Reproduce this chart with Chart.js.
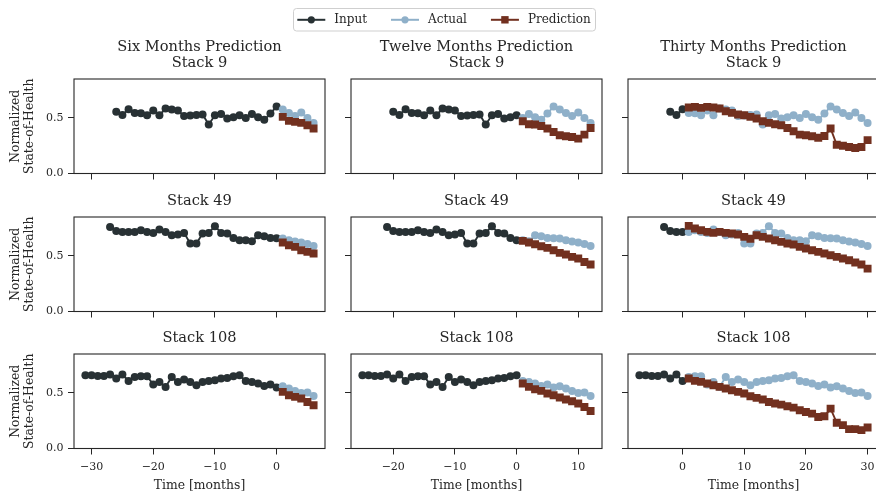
<!DOCTYPE html>
<html>
<head>
<meta charset="utf-8">
<script src="https://cdn.jsdelivr.net/npm/chart.js@4"></script>
<style>
  html, body { margin: 0; padding: 0; background: #fff; }
  body { position: relative; width: 876px; height: 493px; overflow: hidden; }
  canvas { position: absolute; }
</style>
</head>
<body>
<script>
// ---- Data -------------------------------------------------------------
const horizons = [6, 12, 30];
const horizonTitles = ['Six Months Prediction', 'Twelve Months Prediction', 'Thirty Months Prediction'];
const stackNames = ['Stack 9', 'Stack 49', 'Stack 108'];
const seriesNames = ['Input', 'Actual', 'Prediction'];

// Measured normalized state-of-health, one value per month (oldest first)
const stack9Soh = [0.555, 0.527, 0.578, 0.544, 0.543, 0.524, 0.567, 0.524, 0.584, 0.575, 0.567,
  0.518, 0.522, 0.527, 0.530, 0.441, 0.524, 0.536, 0.494, 0.506, 0.524, 0.500, 0.535, 0.505,
  0.483, 0.539, 0.603, 0.575, 0.544, 0.517, 0.548, 0.500, 0.455];
const stack49Soh = [0.761, 0.725, 0.716, 0.716, 0.716, 0.731, 0.716, 0.707, 0.737, 0.716, 0.686,
  0.692, 0.707, 0.611, 0.611, 0.701, 0.707, 0.767, 0.707, 0.701, 0.662, 0.641, 0.641, 0.632,
  0.686, 0.677, 0.660, 0.658, 0.656, 0.640, 0.630, 0.621, 0.607, 0.590];
const stack108Soh = [0.659, 0.659, 0.653, 0.653, 0.665, 0.629, 0.665, 0.608, 0.644, 0.650, 0.650,
  0.575, 0.599, 0.554, 0.644, 0.599, 0.620, 0.599, 0.569, 0.599, 0.608, 0.614, 0.629, 0.635,
  0.650, 0.659, 0.608, 0.599, 0.584, 0.563, 0.575, 0.548, 0.560, 0.539, 0.518, 0.500, 0.503, 0.473];

// Model forecasts for months 1..horizon
const pred9Six = [0.509, 0.473, 0.464, 0.455, 0.434, 0.404];
const pred9Twelve = [0.470, 0.443, 0.440, 0.428, 0.404, 0.374, 0.344, 0.335, 0.329, 0.314, 0.350, 0.410];
const pred9Thirty = [0.593, 0.599, 0.590, 0.599, 0.593, 0.584, 0.560, 0.545, 0.530, 0.524, 0.509, 0.494,
  0.470, 0.455, 0.443, 0.434, 0.410, 0.380, 0.350, 0.344, 0.335, 0.322, 0.338, 0.405, 0.258, 0.250,
  0.238, 0.230, 0.238, 0.300];
const pred49Six = [0.620, 0.596, 0.581, 0.551, 0.536, 0.521];
const pred49Twelve = [0.635, 0.620, 0.605, 0.587, 0.572, 0.551, 0.527, 0.512, 0.491, 0.476, 0.446, 0.422];
const pred49Thirty = [0.770, 0.746, 0.731, 0.716, 0.707, 0.716, 0.707, 0.701, 0.692, 0.671, 0.655, 0.686,
  0.671, 0.656, 0.641, 0.626, 0.611, 0.602, 0.581, 0.566, 0.551, 0.536, 0.521, 0.506, 0.491, 0.476,
  0.461, 0.440, 0.422, 0.386];
const pred108Six = [0.509, 0.479, 0.464, 0.449, 0.419, 0.389];
const pred108Twelve = [0.584, 0.554, 0.533, 0.518, 0.494, 0.479, 0.458, 0.440, 0.425, 0.404, 0.374, 0.338];
const pred108Thirty = [0.629, 0.608, 0.599, 0.584, 0.569, 0.554, 0.539, 0.524, 0.509, 0.494, 0.470, 0.455,
  0.440, 0.419, 0.404, 0.395, 0.380, 0.368, 0.344, 0.329, 0.314, 0.284, 0.290, 0.359, 0.231, 0.210,
  0.174, 0.174, 0.165, 0.189];

const xTicksByColumn = [[-30, -20, -10, 0], [-20, -10, 0, 10], [0, 10, 20, 30]];
const yTicks = [0, 0.5];

const stackSoh = [stack9Soh, stack49Soh, stack108Soh];
const predictions = [
  [pred9Six, pred9Twelve, pred9Thirty],
  [pred49Six, pred49Twelve, pred49Thirty],
  [pred108Six, pred108Twelve, pred108Thirty]
];

// ---- Styling / layout ---------------------------------------------------
const FONT = "'DejaVu Serif', 'Liberation Serif', serif";
const INK = '#262626';
const COLORS = { Input: '#283134', Actual: '#8fb0c9', Prediction: '#72301f' };

const COL_LEFT = [73.7, 351, 628];
const ROW_TOP = [78.8, 216.8, 353.8];
const PLOT_W = 251, PLOT_H = 94.5;
const Y_W = 75, TOP_PAD = 45, R_PAD = 12, X_H = 45.5;
const CANVAS_W = Y_W + PLOT_W + R_PAD;
const CANVAS_H = TOP_PAD + PLOT_H + X_H;
const Y_MAX = 0.85;

const TITLE_SIZE = 14.6, TITLE_LH = 1.13;
const LABEL_SIZE = 12.4;
const TICK_SIZE = 11;

const fmtX = v => (v < 0 ? '\u2212' + Math.abs(v) : String(v));

const framePlugin = {
  id: 'frame',
  afterDraw(chart) {
    const { ctx, chartArea: a } = chart;
    ctx.save();
    ctx.strokeStyle = INK;
    ctx.lineWidth = 1.1;
    ctx.strokeRect(a.left, a.top, a.right - a.left, a.bottom - a.top);
    ctx.restore();
  }
};

function seriesStyle(name) {
  const color = COLORS[name];
  const isPred = name === 'Prediction';
  return {
    borderColor: color,
    backgroundColor: color,
    borderWidth: 1.9,
    pointStyle: isPred ? 'rect' : 'circle',
    pointRadius: isPred ? 5.6 : 4.0,
    pointBorderWidth: 0,
    pointBackgroundColor: color,
    tension: 0,
    fill: false
  };
}

function columnRange(c) {
  const h = horizons[c];
  const tMin = Math.min(...stackSoh.map(s => -(s.length - h - 1)));
  const pad = (h - tMin) * 0.05;
  return [tMin - pad, h + pad];
}

function makePanel(r, c) {
  const soh = stackSoh[r];
  const h = horizons[c];
  const nIn = soh.length - h;
  const input = soh.slice(0, nIn).map((v, i) => ({ x: i - (nIn - 1), y: v }));
  const actual = soh.slice(nIn).map((v, i) => ({ x: i + 1, y: v }));
  const pred = predictions[r][c].map((v, i) => ({ x: i + 1, y: v }));
  const titleLines = r === 0 ? [horizonTitles[c], stackNames[r]] : [stackNames[r]];
  const [xMin, xMax] = columnRange(c);
  const titleBottom = 7.5;
  const titleTop = TOP_PAD - titleLines.length * TITLE_SIZE * TITLE_LH - titleBottom;

  const cv = document.createElement('canvas');
  cv.width = CANVAS_W;
  cv.height = CANVAS_H;
  cv.style.left = (COL_LEFT[c] - Y_W) + 'px';
  cv.style.top = (ROW_TOP[r] - TOP_PAD) + 'px';
  document.body.appendChild(cv);

  const tickGrid = { display: true, drawOnChartArea: false, drawTicks: true, tickLength: 6, tickColor: INK, tickWidth: 1 };

  new Chart(cv, {
    type: 'line',
    data: {
      datasets: [
        Object.assign({ label: 'Prediction', data: pred, order: 0 }, seriesStyle('Prediction')),
        Object.assign({ label: 'Actual', data: actual, order: 1 }, seriesStyle('Actual')),
        Object.assign({ label: 'Input', data: input, order: 2 }, seriesStyle('Input'))
      ]
    },
    options: {
      responsive: false,
      animation: false,
      events: [],
      layout: { padding: { left: 0, right: R_PAD, top: 0, bottom: 0 } },
      plugins: {
        legend: { display: false },
        tooltip: { enabled: false },
        title: {
          display: true,
          fullSize: false,
          text: titleLines,
          color: INK,
          font: { family: FONT, size: TITLE_SIZE, weight: 'normal', lineHeight: TITLE_LH },
          padding: { top: titleTop, bottom: titleBottom }
        }
      },
      scales: {
        x: {
          type: 'linear',
          min: xMin,
          max: xMax,
          afterBuildTicks: s => { s.ticks = xTicksByColumn[c].map(v => ({ value: v })); },
          afterFit: s => { s.height = X_H; },
          grid: tickGrid,
          border: { display: false },
          ticks: {
            display: r === 2,
            color: INK,
            font: { family: FONT, size: TICK_SIZE, lineHeight: 1.2 },
            padding: 6.4,
            maxRotation: 0,
            autoSkip: false,
            callback: v => fmtX(v)
          },
          title: {
            display: r === 2,
            text: 'Time [months]',
            color: INK,
            font: { family: FONT, size: LABEL_SIZE, lineHeight: 1.2 },
            padding: { top: 0, bottom: 0.7 }
          }
        },
        y: {
          type: 'linear',
          min: 0,
          max: Y_MAX,
          afterBuildTicks: s => { s.ticks = yTicks.map(v => ({ value: v })); },
          afterFit: s => { s.width = Y_W; },
          grid: tickGrid,
          border: { display: false },
          ticks: {
            display: c === 0,
            color: INK,
            font: { family: FONT, size: TICK_SIZE },
            padding: 4.5,
            callback: v => Number(v).toFixed(1)
          },
          title: {
            display: c === 0,
            text: ['Normalized', 'State-of-Health'],
            color: INK,
            font: { family: FONT, size: LABEL_SIZE, lineHeight: 1.07 },
            padding: { top: 10.6, bottom: 0 }
          }
        }
      }
    },
    plugins: [framePlugin]
  });
}

for (let r = 0; r < 3; r++) {
  for (let c = 0; c < 3; c++) makePanel(r, c);
}

// ---- Shared legend (drawn once across the top of the figure) ----------
const LEGEND_FONT_SIZE = 12;
const legendPlugin = {
  id: 'figureLegend',
  afterDraw(chart) {
    const ctx = chart.ctx;
    const sets = chart.data.datasets;
    const symW = 28, gapText = 9, gapItem = 24, padL = 4, padR = 5;
    const cx = 444.5, cy = 19.8;
    ctx.save();
    ctx.font = `${LEGEND_FONT_SIZE}px ${FONT}`;
    const widths = sets.map(d => ctx.measureText(d.label).width);
    const total = padL + padR + sets.length * (symW + gapText) + widths.reduce((a, b) => a + b, 0) + gapItem * (sets.length - 1);
    const left = cx - total / 2;
    // frame
    ctx.fillStyle = 'rgba(255,255,255,0.8)';
    ctx.strokeStyle = '#cfcfcf';
    ctx.lineWidth = 1;
    ctx.beginPath();
    ctx.roundRect(Math.round(left) + 0.5, 8.5, Math.round(total), 22.5, 3);
    ctx.fill();
    ctx.stroke();
    // entries
    let x = left + padL;
    sets.forEach((d, i) => {
      const color = d.borderColor;
      ctx.strokeStyle = color;
      ctx.lineWidth = 2;
      ctx.beginPath();
      ctx.moveTo(x, cy); ctx.lineTo(x + symW, cy);
      ctx.stroke();
      ctx.fillStyle = color;
      const mx = x + symW / 2;
      if (d.pointStyle === 'rect') {
        ctx.fillRect(mx - 3.7, cy - 3.7, 7.4, 7.4);
      } else {
        ctx.beginPath(); ctx.arc(mx, cy, 3.6, 0, Math.PI * 2); ctx.fill();
      }
      x += symW + gapText;
      ctx.fillStyle = INK;
      ctx.textBaseline = 'middle';
      ctx.textAlign = 'left';
      ctx.fillText(d.label, x, cy);
      x += widths[i] + gapItem;
    });
    ctx.restore();
  }
};

const lc = document.createElement('canvas');
lc.width = 876; lc.height = 40;
lc.style.left = '0px';
lc.style.top = '0px';
document.body.appendChild(lc);

new Chart(lc, {
  type: 'line',
  data: {
    datasets: seriesNames.map(n => Object.assign({ label: n, data: [] }, seriesStyle(n)))
  },
  options: {
    responsive: false,
    animation: false,
    events: [],
    scales: { x: { display: false }, y: { display: false } },
    plugins: { tooltip: { enabled: false }, legend: { display: false }, title: { display: false } }
  },
  plugins: [legendPlugin]
});
</script>
</body>
</html>
